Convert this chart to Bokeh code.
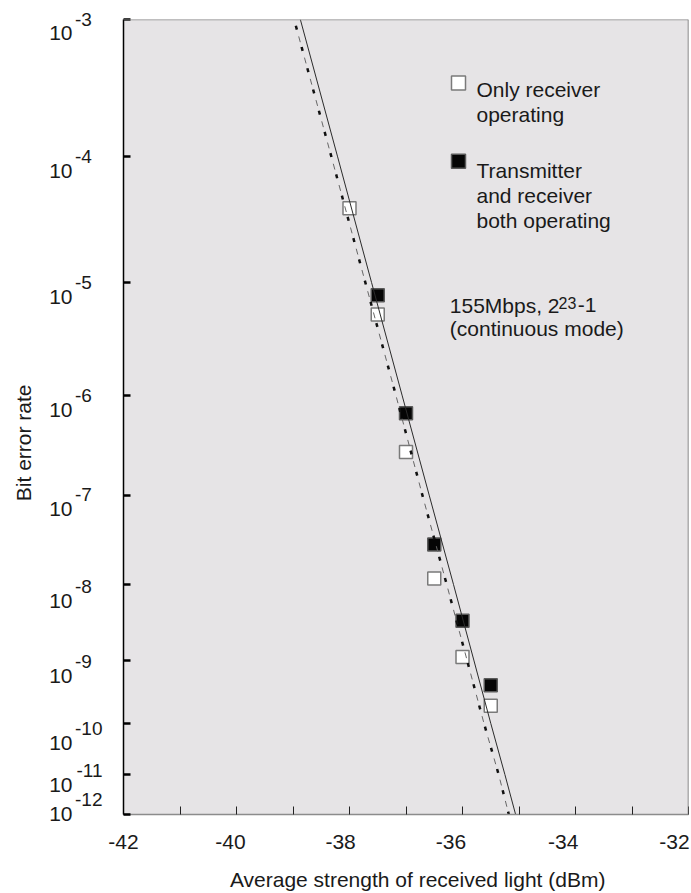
import numpy as np
from bokeh.plotting import figure
from bokeh.models import Range1d, FixedTicker, Label, Span, Title, LinearAxis
from bokeh.embed import file_html
from bokeh.resources import INLINE

# ---------------- data ----------------
x_ticks = [-42, -40, -38, -36, -34, -32]
x_tick_labels = ["-42", "-40", "-38", "-36", "-34", "-32"]
x_minor_ticks = [-41, -39, -37, -35, -33]

decade_exp = [-3, -4, -5, -6, -7, -8, -9, -10, -11, -12]
decade_exp_labels = ["-3", "-4", "-5", "-6", "-7", "-8", "-9", "-10", "-11", "-12"]
# position of each decade on the chart's non-uniform BER scale (read from the reference axis)
decade_pos = [19.3, 156.7, 282.3, 395.0, 495.0, 584.3, 660.0, 723.3, 774.5, 814.5]

# Only receiver operating (open squares)
rx_power = [-38.0, -37.5, -37.0, -36.5, -36.0, -35.5]
rx_ber = [3.9e-5, 5.2e-6, 2.7e-7, 1.16e-8, 1.1e-9, 1.9e-10]

# Transmitter and receiver both operating (filled squares)
both_power = [-37.5, -37.0, -36.5, -36.0, -35.5]
both_ber = [7.7e-6, 6.6e-7, 2.8e-8, 3.3e-9, 4.0e-10]

# solid fitted line
fit_power = [-38.87, -38.21, -37.61, -37.07, -36.59, -36.16, -35.80, -35.50, -35.25, -35.06]
fit_ber = [1e-3, 1e-4, 1e-5, 1e-6, 1e-7, 1e-8, 1e-9, 1e-10, 1e-11, 1e-12]

# dotted/dashed line
trend_power = [-38.95, -38.32, -37.72, -37.18, -36.71, -36.28, -35.92, -35.62, -35.36, -35.18]
trend_ber = [9e-4, 1e-4, 1e-5, 1e-6, 1e-7, 1e-8, 1e-9, 1e-10, 1e-11, 1e-12]


def ber_scale(ber):
    """Map BER values onto the chart's non-uniform decade scale."""
    e = -np.log10(np.asarray(ber, dtype=float))
    return np.interp(e, [-d for d in decade_exp], decade_pos)


FONT = "Liberation Sans"
TXT = "#1a1a1a"
BG = "#e6e4e6"
X0 = -42.0
FRAME_LEFT = 123
PX_PER_DBM = 56.5

p = figure(
    frame_width=565, frame_height=795,
    min_border_left=FRAME_LEFT, min_border_right=3, min_border_top=19, min_border_bottom=79,
    x_range=Range1d(-42, -32), y_range=Range1d(decade_pos[-1], decade_pos[0]),
    output_backend="svg", toolbar_location=None,
    background_fill_color=BG, border_fill_color="white",
)
p.outline_line_color = None
p.xgrid.visible = False
p.ygrid.visible = False


def label_axis(ticks, texts, size, standoff):
    """An axis that only carries text labels (no line, no tick marks)."""
    ax = LinearAxis(ticker=FixedTicker(ticks=ticks, minor_ticks=[]))
    ax.major_label_overrides = {t: s for t, s in zip(ticks, texts)}
    ax.major_label_text_font = FONT
    ax.major_label_text_font_size = size
    ax.major_label_text_color = TXT
    ax.major_label_standoff = standoff
    ax.major_tick_in = 0
    ax.major_tick_out = 0
    ax.major_tick_line_color = None
    ax.minor_tick_line_color = None
    ax.axis_line_color = None
    return ax


# ---- x axis: tick marks ----
xa = p.xaxis[0]
xa.ticker = FixedTicker(ticks=x_ticks, minor_ticks=x_minor_ticks)
xa.major_label_overrides = {t: "" for t in x_ticks}
xa.major_label_text_font_size = "0px"
xa.major_label_standoff = 0
xa.major_tick_in = 8
xa.major_tick_out = 0
xa.minor_tick_in = 8
xa.minor_tick_out = 0
xa.major_tick_line_color = "#222222"
xa.minor_tick_line_color = "#222222"
xa.axis_line_color = "#8c8c8c"
xa.axis_line_width = 1.5

# ---- x tick labels (set slightly left of their ticks, as in the original) ----
x_label_shift_px = [0.0, -6.0, -8.9, -11.6, -12.3, -14.0]
x_label_pos = [round(t + d / PX_PER_DBM, 3) for t, d in zip(x_ticks, x_label_shift_px)]
xl = label_axis(x_label_pos, x_tick_labels, "21px", 20)
xl.axis_label = "\u00a0\u00a0\u00a0\u00a0Average strength of received light (dBm)"
xl.axis_label_standoff = 16
xl.axis_label_text_font = FONT
xl.axis_label_text_font_size = "21px"
xl.axis_label_text_font_style = "normal"
xl.axis_label_text_color = TXT
p.add_layout(xl, "below")

# ---- y axis: tick marks only ----
ya = p.yaxis[0]
ya.ticker = FixedTicker(ticks=decade_pos, minor_ticks=[])
ya.major_label_overrides = {t: "" for t in decade_pos}
ya.major_label_text_font_size = "0px"
ya.major_label_standoff = 0
ya.major_tick_in = 7
ya.major_tick_out = 0
ya.major_tick_line_width = 2.5
ya.major_tick_line_color = "black"
ya.minor_tick_line_color = None
ya.axis_line_color = "black"
ya.axis_line_width = 1.5

# ---- y tick labels: "10" and its superscript exponent on two label-only axes ----
label_dy = [21.4, 21.6, 22.0, 22.3, 21.7, 24.0, 23.3, 26.7, 17.7, 16.4]   # baseline below decade
lo, hi = decade_pos[0] + 0.5, decade_pos[-1] - 0.5
base_c, exp_c = [], []
for pos, d in zip(decade_pos, label_dy):
    b = pos + d - 7.5            # centre of "10"
    e = pos + d - 21.8           # centre of the exponent
    shift = max(0.0, b - hi)
    b, e = b - shift, e - shift
    e = max(e, lo)
    base_c.append(round(b, 2))
    exp_c.append(round(e, 2))

# pad short exponents with figure spaces so they line up on the left
exp_text = [s + "\u2007" * (3 - len(s)) for s in decade_exp_labels]

p.add_layout(label_axis(exp_c, exp_text, "19px", 21), "left")
p.add_layout(label_axis(base_c, ["10"] * len(base_c), "21px", 0), "left")
p.add_layout(Title(text="Bit error rate", align="left", offset=814 - 500.7,
                   vertical_align="top", standoff=19,
                   text_font=FONT, text_font_size="21px", text_font_style="normal",
                   text_color=TXT), "left")

# top and right frame lines
p.add_layout(Span(location=decade_pos[0], dimension="width", line_color="#8c8c8c", line_width=1.5))
p.add_layout(Span(location=-32, dimension="height", line_color="#6e6e6e", line_width=1.5))

# markers
p.scatter(rx_power, ber_scale(rx_ber), marker="square", size=13,
          fill_color="white", line_color="#7a7a7a", line_width=1.5)
p.scatter(both_power, ber_scale(both_ber), marker="square", size=13,
          fill_color="#050505", line_color="#5a5a5a", line_width=1.5)

# lines
p.line(fit_power, ber_scale(fit_ber), line_color="#2b2b2b", line_width=1)
tx, ty = trend_power, ber_scale(trend_ber)
p.line(tx, ty, line_color="#666666", line_width=1, line_dash="6 16", line_dash_offset=11)
p.line(tx, ty, line_color="#111111", line_width=2.5, line_dash="4 18")


def add_text(text, px, y, size="21px"):
    p.add_layout(Label(x=X0, y=y, x_offset=px - FRAME_LEFT, text=text,
                       text_align="left", text_baseline="alphabetic", text_font=FONT,
                       text_font_size=size, text_color=TXT))

# legend
key_x = X0 + (458 - FRAME_LEFT) / PX_PER_DBM
p.scatter([key_x], [82.7], marker="square", size=14, fill_color="white",
          line_color="#7a7a7a", line_width=1.5)
p.scatter([key_x], [161.0], marker="square", size=14, fill_color="#050505",
          line_color="#5a5a5a", line_width=1.5)
add_text("Only receiver", 476, 89.3)
add_text("operating", 476, 114.0)
add_text("Transmitter", 476, 170.0)
add_text("and receiver", 476, 195.0)
add_text("both operating", 476, 220.0)

# test conditions note
add_text("155Mbps, 2", 449.3, 305.0)
add_text("23", 558.0, 302.5, size="16px")
add_text("-1", 577.3, 305.0)
add_text("(continuous mode)", 449.3, 328.0)

open("out.html", "w").write(file_html(p, INLINE))
